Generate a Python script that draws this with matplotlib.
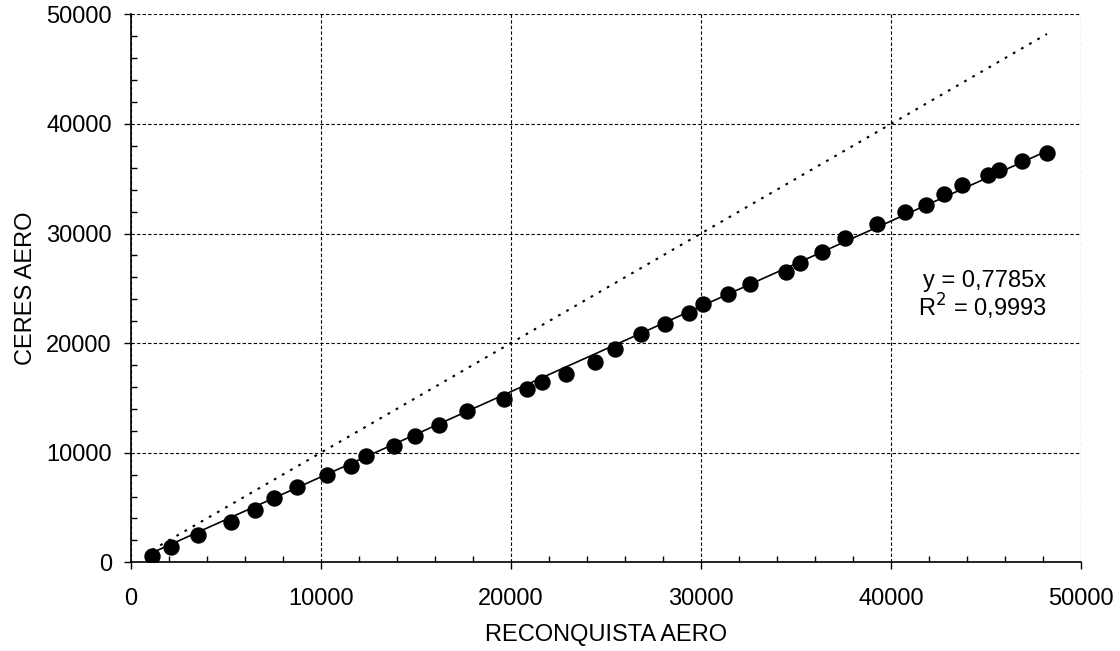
import numpy as np
import matplotlib.pyplot as plt
from matplotlib.ticker import MultipleLocator

plt.rcParams['font.family'] = ['Liberation Sans', 'DejaVu Sans']

# datos (RECONQUISTA AERO vs CERES AERO)
reconquista = [1126, 2105, 3558, 5263, 6526, 7542, 8753, 10332, 11595, 12384,
               13842, 14979, 16242, 17700, 19632, 20842, 21647, 22895, 24437,
               25489, 26842, 28137, 29384, 30121, 31421, 32558, 34453, 35226,
               36347, 37595, 39263, 40716, 41858, 42768, 43737, 45121, 45684,
               46911, 48211]
ceres = [602, 1423, 2518, 3677, 4772, 5839, 6843, 7993, 8814, 9699,
         10639, 11551, 12500, 13832, 14872, 15840, 16451, 17180, 18276,
         19462, 20858, 21770, 22774, 23568, 24510, 25420, 26487, 27339,
         28343, 29590, 30867, 31962, 32570, 33604, 34425, 35365, 35794,
         36615, 37372]
pendiente = 0.7785
r2 = 0.9993

x = np.array(reconquista)
y = np.array(ceres)

fs = 17

fig = plt.figure(figsize=(11.2, 6.51), dpi=100)
ax = fig.add_axes([0.1167, 0.1362, 0.8485, 0.8418])

# linea 1:1
lim = [x.min(), x.max()]
ax.plot(lim, lim, color='black', lw=1.5, linestyle=(0, (1.3, 3.2)), zorder=2)
# linea de tendencia
ax.plot(lim, [pendiente * v for v in lim], color='black', lw=1.2, zorder=3)
ax.plot(x, y, 'o', color='black', markersize=10.8, zorder=4)

ax.set_xlim(0, 50000)
ax.set_ylim(0, 50000)
ax.xaxis.set_major_locator(MultipleLocator(10000))
ax.yaxis.set_major_locator(MultipleLocator(10000))
ax.xaxis.set_minor_locator(MultipleLocator(2000))
ax.yaxis.set_minor_locator(MultipleLocator(2000))
ax.tick_params(which='major', direction='out', length=5, width=1, labelsize=fs)
ax.tick_params(axis='x', which='major', pad=13.5)
ax.tick_params(axis='y', which='major', pad=8.6)
ax.tick_params(which='minor', direction='in', length=4.5, width=1)
ax.spines['top'].set_visible(False)
ax.spines['right'].set_visible(False)
ax.spines['left'].set_linewidth(1.2)
ax.spines['bottom'].set_linewidth(1.2)
ax.grid(True, which='major', color='black', lw=0.8, linestyle=(0, (3, 2)))
ax.set_axisbelow(True)

ax.set_xlabel('RECONQUISTA AERO', fontsize=fs, labelpad=10)
ax.set_ylabel('CERES AERO', fontsize=fs, labelpad=6.5)

ax.text(48174, 25119, 'y = 0,7785x', ha='right', va='baseline', fontsize=fs)
ax.text(48174, 22381, 'R$^2$ = 0,9993', ha='right', va='baseline', fontsize=fs)

fig.savefig('out.png', dpi=100)
